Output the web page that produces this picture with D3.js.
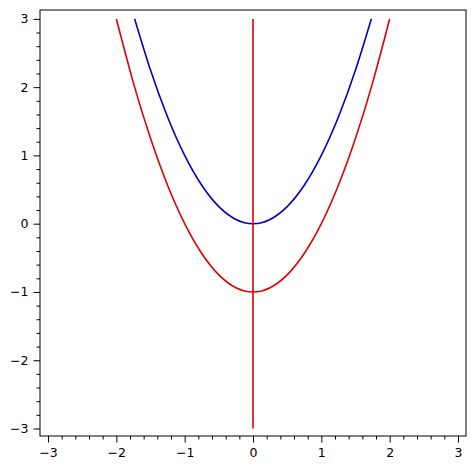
<!DOCTYPE html>
<html><head><meta charset="utf-8">
<script src="https://cdn.jsdelivr.net/npm/d3@7"></script>
<style>body{margin:0;background:#fff}svg{display:block}</style>
</head><body>
<script>
const xTicks = [-3,-2,-1,0,1,2,3];
const yTicks = [-3,-2,-1,0,1,2,3];
const blueX = [-1.732,-1.5,-1.25,-1,-0.75,-0.5,-0.25,0,0.25,0.5,0.75,1,1.25,1.5,1.732];
const blueY = [3,2.25,1.5625,1,0.5625,0.25,0.0625,0,0.0625,0.25,0.5625,1,1.5625,2.25,3];
const redX = [-2,-1.75,-1.5,-1.25,-1,-0.75,-0.5,-0.25,0,0.25,0.5,0.75,1,1.25,1.5,1.75,2];
const redY = [3,2.0625,1.25,0.5625,0,-0.4375,-0.75,-0.9375,-1,-0.9375,-0.75,-0.4375,0,0.5625,1.25,2.0625,3];
const vertX = [0,0];
const vertY = [-3,3];

const W=476,H=470;
const mL=40,mT=10,mR=466,mB=436;
const x=d3.scaleLinear().domain([-3.117,3.117]).range([mL,mR]);
const y=d3.scaleLinear().domain([3.13,-3.11]).range([mT,mB]);
const svg=d3.select("body").append("svg").attr("width",W).attr("height",H);

const minor=[];for(let i=-15;i<=15;i++){if(i%5!==0)minor.push(i/5);}

const fmt=d=>d<0?"\u2212"+Math.abs(d):String(d);
svg.append("g").attr("transform",`translate(0,${mB})`)
 .call(d3.axisBottom(x).tickValues(xTicks).tickFormat(fmt).tickSize(6.5).tickPadding(5.5));
svg.append("g").attr("transform",`translate(0,${mB})`)
 .call(d3.axisBottom(x).tickValues(minor).tickFormat("").tickSize(3.5));
svg.append("g").attr("transform",`translate(${mL},0)`)
 .call(d3.axisLeft(y).tickValues(yTicks).tickFormat(fmt).tickSize(6.5).tickPadding(5));
svg.append("g").attr("transform",`translate(${mL},0)`)
 .call(d3.axisLeft(y).tickValues(minor).tickFormat("").tickSize(3.5));
svg.selectAll(".domain").remove();
svg.selectAll(".tick line").attr("stroke","#000").attr("stroke-width",1);
svg.selectAll(".tick text").attr("font-family","DejaVu Sans").attr("font-size","12.5px").attr("fill","#000");

const line=d3.line().x(d=>x(d[0])).y(d=>y(d[1])).curve(d3.curveNatural);
const plot=svg.append("g");
plot.append("path").datum(redX.map((v,i)=>[v,redY[i]])).attr("d",line).attr("fill","none").attr("stroke","#e00000").attr("stroke-width",1.6);
plot.append("path").datum(blueX.map((v,i)=>[v,blueY[i]])).attr("d",line).attr("fill","none").attr("stroke","#0000cc").attr("stroke-width",1.6);
plot.append("path").datum(vertX.map((v,i)=>[v,vertY[i]])).attr("d",d3.line().x(d=>x(d[0])).y(d=>y(d[1]))).attr("fill","none").attr("stroke","#e00000").attr("stroke-width",1.6);

svg.append("rect").attr("x",mL).attr("y",mT).attr("width",mR-mL).attr("height",mB-mT)
 .attr("fill","none").attr("stroke","#000").attr("stroke-width",1);
</script>
</body></html>
